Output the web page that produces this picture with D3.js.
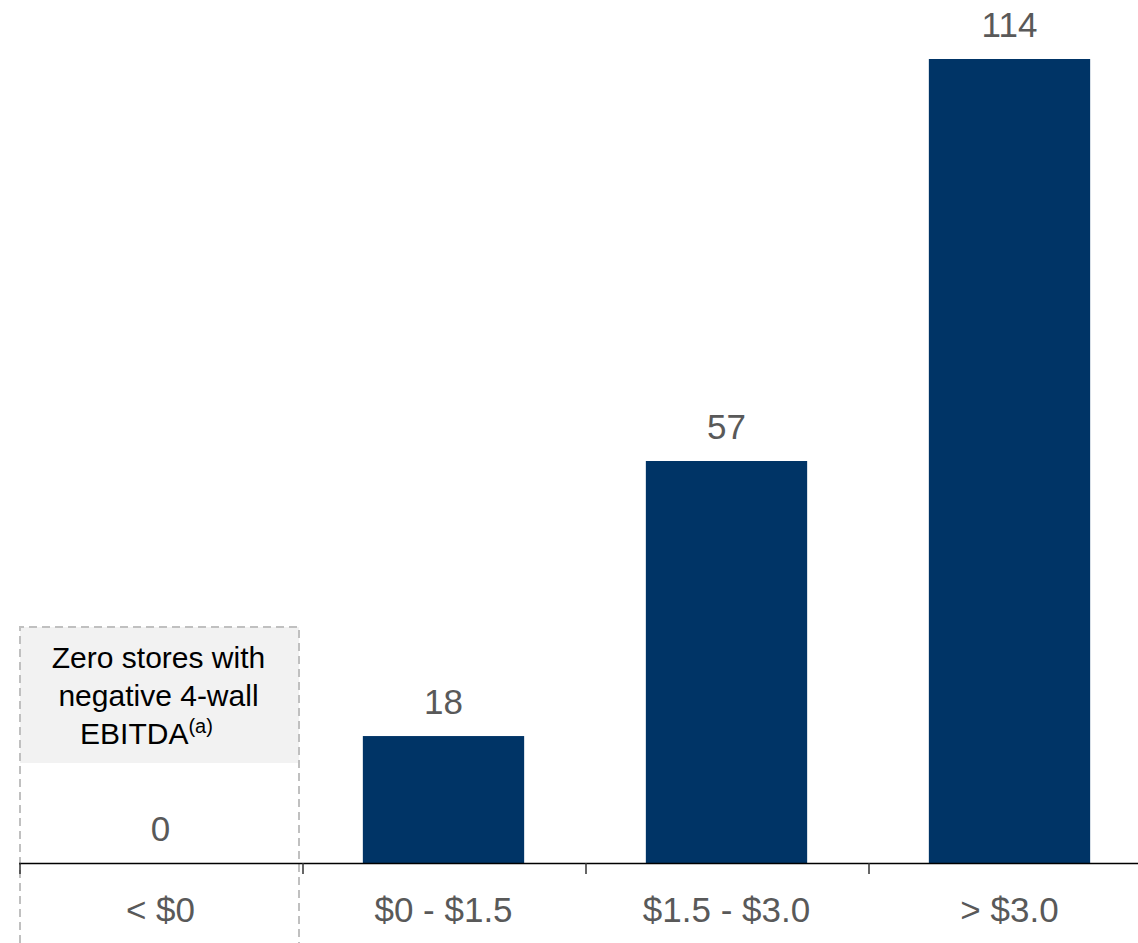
<!DOCTYPE html>
<html><head><meta charset="utf-8">
<script src="https://cdn.jsdelivr.net/npm/d3@7"></script>
<style>body{margin:0;background:#fff}svg{display:block}</style>
</head><body>
<script>
const categories = ["< $0", "$0 - $1.5", "$1.5 - $3.0", "> $3.0"];
const values = [0, 18, 57, 114];
const annotationLines = ["Zero stores with", "negative 4-wall", "EBITDA"];
const annotationSup = "(a)";

const W = 1138, H = 943;
const svg = d3.select("body").append("svg").attr("width", W).attr("height", H);
const x = d3.scaleBand().domain(categories).range([19, 1151]).padding(0);
const y = d3.scaleLinear().domain([0, 114]).range([863, 59]);
const barW = x.bandwidth() * 0.57;
const font = "'Liberation Sans', Arial, sans-serif";

// annotation box for first category
const bx0 = x(categories[0]) + 1, bx1 = x(categories[0]) + x.bandwidth() - 3;
svg.append("rect").attr("x", bx0).attr("y", 627).attr("width", bx1 - bx0).attr("height", 136).attr("fill", "#f2f2f2");
svg.append("path").attr("d", `M${bx0},${H}V627H${bx1}V${H}`).attr("fill", "none")
  .attr("stroke", "#c0c0c0").attr("stroke-width", 2).attr("stroke-dasharray", "8,5");
const ann = svg.append("text").attr("text-anchor", "middle").attr("font-family", font)
  .attr("font-size", 30).attr("fill", "#000");
annotationLines.forEach((l, i) => {
  const t = ann.append("tspan").attr("x", x(categories[0]) + x.bandwidth() / 2 - 2).attr("y", 668 + i * 38).text(l);
  if (i === annotationLines.length - 1) {
    t.attr("dx", -12);
    ann.append("tspan").attr("dy", -11).attr("font-size", 20).text(annotationSup);
  }
});

// bars
svg.selectAll("rect.bar").data(values).join("rect").attr("class", "bar")
  .attr("x", (d, i) => x(categories[i]) + (x.bandwidth() - barW) / 2)
  .attr("y", d => y(d)).attr("width", barW).attr("height", d => y(0) - y(d))
  .attr("fill", "#003466");

// value labels
svg.selectAll("text.val").data(values).join("text").attr("class", "val")
  .attr("x", (d, i) => x(categories[i]) + x.bandwidth() / 2)
  .attr("y", d => y(d) - 22).attr("text-anchor", "middle")
  .attr("font-family", font).attr("font-size", 35).attr("fill", "#595959").text(d => d);

// axis
const ax = svg.append("g").attr("transform", "translate(0,863)")
  .call(d3.axisBottom(x).tickSize(0).tickPadding(0));
ax.select(".domain").remove();
ax.selectAll("text").remove();
svg.append("line").attr("x1", 19).attr("x2", W).attr("y1", 863.5).attr("y2", 863.5).attr("stroke", "#000").attr("stroke-width", 1.5);
svg.selectAll("line.tick").data(categories).join("line").attr("class", "tick")
  .attr("x1", d => x(d) + 1).attr("x2", d => x(d) + 1).attr("y1", 863).attr("y2", 874)
  .attr("stroke", "#333").attr("stroke-width", 1.5);
svg.selectAll("text.cat").data(categories).join("text").attr("class", "cat")
  .attr("x", d => x(d) + x.bandwidth() / 2).attr("y", 922).attr("text-anchor", "middle")
  .attr("font-family", font).attr("font-size", 35).attr("fill", "#595959").text(d => d);
</script>
</body></html>
